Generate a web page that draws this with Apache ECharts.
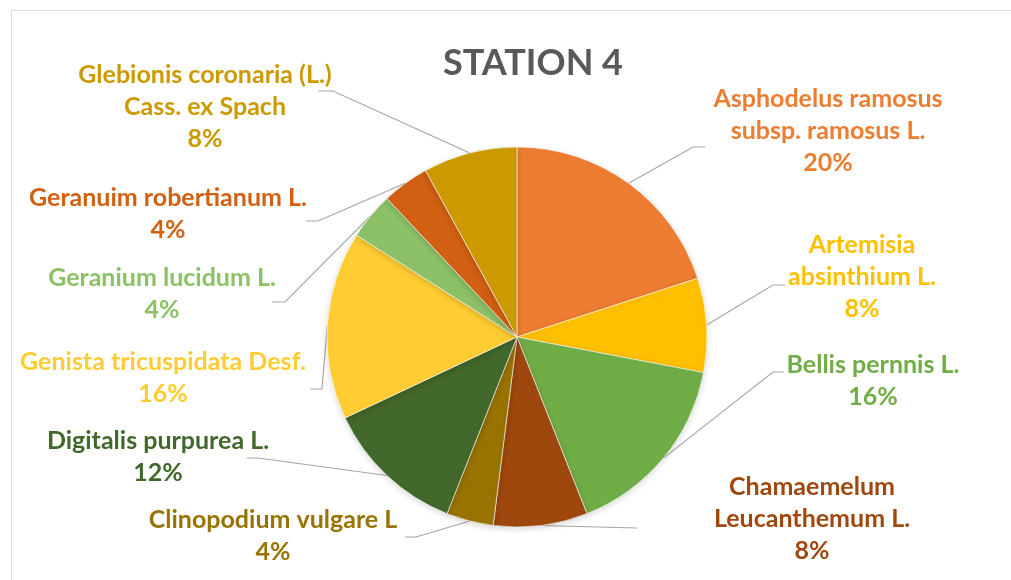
<!DOCTYPE html>
<html lang="en">
<head>
    <meta charset="UTF-8">
    <script src="https://cdn.jsdelivr.net/npm/echarts@6/dist/echarts.min.js"></script>
    <title>STATION 4</title>
</head>
<body>
<style>
    html, body, #main {
        width: 100%;
        height: 100%;
        margin: 0;
        background: #fff;
    }
</style>
<div id='main'></div>
<script>
    // data
    var species = [
        'Asphodelus ramosus\nsubsp. ramosus L.',
        'Artemisia\nabsinthium L.',
        'Bellis pernnis L.',
        'Chamaemelum\nLeucanthemum L.',
        'Clinopodium vulgare L',
        'Digitalis purpurea L.',
        'Genista tricuspidata Desf.',
        'Geranium lucidum L.',
        'Geranuim robertianum L.',
        'Glebionis coronaria (L.)\nCass. ex Spach'
    ];
    var shares = [20, 8, 16, 8, 4, 12, 16, 4, 4, 8];
    var colors = ['#ED7D31', '#FFC000', '#70AD47', '#9E480E', '#997300',
                  '#43682B', '#FFCD33', '#8CC168', '#D26013', '#CC9A00'];

    // where excel left the labels (block centre) and where leader lines end
    var labelAt = [[828, 131], [862, 277], [873, 381], [812, 519], [273, 536],
                   [158, 457], [163, 378], [162, 294], [168, 214], [205, 107]];
    var leaderEnd = [[705, 147], [785, 285], [784, 372], [637, 528], [405, 537],
                     [247, 458], [310, 389], [272, 302], [306, 221], [318, 91]];
    var elbow = [-12, -12, -11, 0, 11, 11, 12, 13, 12, 15];

    var chart = echarts.init(document.getElementById('main'));

    var pieData = [];
    for (var i = 0; i < species.length; i++) {
        pieData.push({
            name: species[i],
            value: shares[i],
            itemStyle: {color: colors[i]},
            label: {color: colors[i]}
        });
    }

    var option = {
        animation: false,
        backgroundColor: '#fff',
        title: {
            text: 'STATION 4',
            left: 528,
            top: 40,
            textAlign: 'center',
            textStyle: {
                fontFamily: 'Lato',
                fontWeight: 'bold',
                fontSize: 36,
                color: '#595959'
            }
        },
        graphic: [{
            type: 'rect',
            shape: {x: 11.5, y: 10.5, width: 1100, height: 700},
            style: {fill: 'none', stroke: '#d9d9d9', lineWidth: 1},
            silent: true
        }],
        series: [{
            type: 'pie',
            center: [517, 337],
            radius: 190,
            startAngle: 90,
            clockwise: true,
            data: pieData,
            itemStyle: {
                borderColor: '#fff',
                borderWidth: 0.6,
                shadowBlur: 6,
                shadowColor: 'rgba(0,0,0,0.15)',
                shadowOffsetY: 2
            },
            label: {
                show: true,
                formatter: function (p) {
                    return p.name + '\n' + p.value + '%';
                },
                fontFamily: 'Lato',
                fontWeight: 'bold',
                fontSize: 25,
                lineHeight: 32,
                align: 'center',
                overflow: 'none'
            },
            labelLine: {
                show: true,
                lineStyle: {color: '#a6a6a6', width: 1.2}
            },
            labelLayout: function (params) {
                var k = params.dataIndex;
                var start = params.labelLinePoints ? params.labelLinePoints[0] : leaderEnd[k];
                var end = leaderEnd[k];
                return {
                    x: labelAt[k][0],
                    y: labelAt[k][1],
                    align: 'center',
                    verticalAlign: 'middle',
                    width: 400,
                    labelLinePoints: [start, [end[0] + elbow[k], end[1]], end]
                };
            }
        }]
    };

    chart.setOption(option);
    window.onresize = chart.resize;
</script>
</body>
</html>
